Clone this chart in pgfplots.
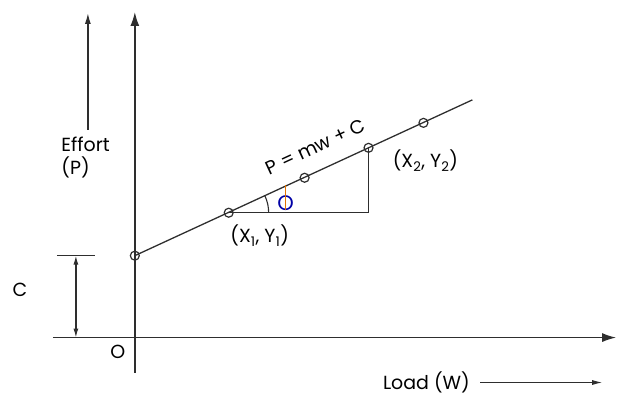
\documentclass[border=0pt]{standalone}
\usepackage{fontspec}
\setmainfont{Poppins}
\usepackage{pgfplots}
\pgfplotsset{compat=1.18}
\usetikzlibrary{arrows.meta}
\definecolor{ln}{HTML}{2E2E2E}
\begin{document}
\begin{tikzpicture}
\begin{axis}[
  width=617pt, height=393pt, scale only axis,
  xmin=0, xmax=617, ymin=0, ymax=393,
  hide axis, clip=false,
  font=\fontsize{19}{22}\selectfont,
]
\path (axis cs:0,0) rectangle (axis cs:617,393);
% axes
\draw[ln, line width=1.6pt, -{Latex[length=14pt,width=9pt]}] (axis cs:135,20) -- (axis cs:135,381);
\draw[ln, line width=1.6pt, -{Latex[length=14pt,width=9pt]}] (axis cs:53,55) -- (axis cs:617,55);
% effort arrow
\draw[ln, line width=1.4pt, -{Latex[length=11pt,width=6pt]}] (axis cs:88,263) -- (axis cs:88,380);
% load arrow
\draw[ln, line width=1pt, -{Latex[length=10pt,width=5pt]}] (axis cs:481,10) -- (axis cs:603,10);
% C bracket
\draw[ln, line width=1.2pt] (axis cs:57,137) -- (axis cs:95,137);
\draw[ln, line width=1.2pt, {Latex[length=9pt,width=5pt]}-{Latex[length=9pt,width=5pt]}] (axis cs:76,137) -- (axis cs:76,55);
% line
\addplot[ln, line width=1.3pt, no marks] coordinates {(135,137) (473,293)};
% triangle
\addplot[ln, line width=1.3pt, no marks] coordinates {(229,180) (369,180) (369,245)};
% points
\addplot[only marks, mark=o, mark size=4.5pt, ln, line width=1.2pt, mark options={fill=white}] coordinates {
(135,137) (229,180) (305,215) (369,245) (424,270)};
% angle arc
\draw[ln, line width=1.1pt] (axis cs:269,180) arc[start angle=0, end angle=24.8, radius=40pt];
\node[text=blue!65!black, inner sep=0pt, font=\fontsize{21}{22}\selectfont] at (axis cs:286,190) {O};
\draw[orange!90!black, line width=1.4pt] (axis cs:286,183) -- (axis cs:286,208);
% labels
\node[anchor=west] at (axis cs:58,248) {Effort};
\node[anchor=west] at (axis cs:58,225) {(P)};
\node at (axis cs:20,103) {C};
\node at (axis cs:118,41) {O};
\node at (axis cs:260,157) {(X\textsubscript{1}, Y\textsubscript{1})};
\node at (axis cs:426,232) {(X\textsubscript{2}, Y\textsubscript{2})};
\node[rotate=24.8] at (axis cs:316,246) {P = mw + C};
\node at (axis cs:427,10) {Load (W)};
\end{axis}
\end{tikzpicture}
\end{document}
